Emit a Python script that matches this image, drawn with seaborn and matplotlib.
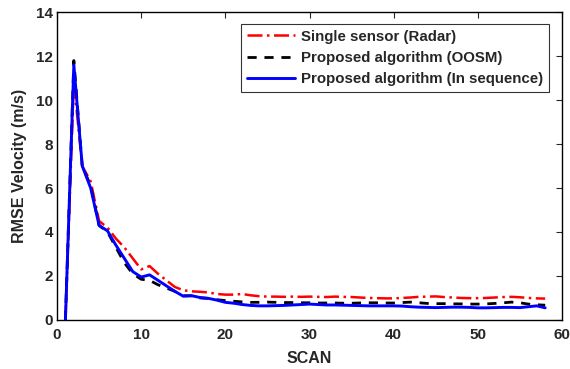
import numpy as np
import pandas as pd
import matplotlib
matplotlib.use("Agg")
import matplotlib.pyplot as plt
import seaborn as sns

scan = list(range(1, 59))
radar = [0, 10.8, 7.0, 6.3, 4.5, 4.2, 3.7, 3.3, 2.8, 2.3,
         2.45, 2.1, 1.8, 1.5, 1.35, 1.3, 1.28, 1.25, 1.18, 1.15,
         1.15, 1.18, 1.12, 1.08, 1.06, 1.06, 1.05, 1.06, 1.05, 1.06,
         1.05, 1.04, 1.06, 1.05, 1.04, 1.02, 1.0, 0.99, 0.98, 0.98,
         1.0, 1.02, 1.05, 1.06, 1.07, 1.04, 1.02, 1.0, 0.99, 0.99,
         1.0, 1.02, 1.04, 1.05, 1.03, 1.0, 0.98, 0.97]
oosm = [0, 11.8, 7.0, 6.1, 4.3, 4.0, 3.3, 2.6, 2.1, 1.85,
        1.8, 1.6, 1.45, 1.3, 1.1, 1.1, 1.0, 0.98, 0.92, 0.88,
        0.85, 0.82, 0.8, 0.8, 0.81, 0.8, 0.79, 0.79, 0.78, 0.78,
        0.77, 0.77, 0.77, 0.76, 0.76, 0.77, 0.78, 0.78, 0.77, 0.77,
        0.79, 0.81, 0.78, 0.75, 0.74, 0.74, 0.73, 0.73, 0.72, 0.72,
        0.73, 0.75, 0.78, 0.81, 0.78, 0.72, 0.69, 0.67]
inseq = [0, 11.6, 7.0, 6.0, 4.3, 4.05, 3.4, 2.8, 2.2, 1.95,
         2.05, 1.8, 1.55, 1.3, 1.08, 1.1, 1.02, 0.98, 0.9, 0.8,
         0.76, 0.7, 0.66, 0.64, 0.64, 0.65, 0.66, 0.68, 0.7, 0.72,
         0.7, 0.68, 0.68, 0.67, 0.66, 0.65, 0.64, 0.64, 0.64, 0.64,
         0.63, 0.6, 0.58, 0.57, 0.56, 0.57, 0.58, 0.58, 0.57, 0.55,
         0.55, 0.56, 0.57, 0.57, 0.56, 0.6, 0.64, 0.55]
labels = ["Single sensor (Radar)", "Proposed algorithm (OOSM)",
          "Proposed algorithm (In sequence)"]
xticks = [0, 10, 20, 30, 40, 50, 60]
yticks = [0, 2, 4, 6, 8, 10, 12, 14]

df = pd.DataFrame({"SCAN": scan * 3,
                   "val": radar + oosm + inseq,
                   "series": [labels[0]] * 58 + [labels[1]] * 58 + [labels[2]] * 58})

sns.set_style("white")
plt.rcParams['font.family'] = ['Liberation Sans', 'DejaVu Sans']
plt.rcParams['font.weight'] = 'bold'

fig = plt.figure(figsize=(5.7, 3.69), dpi=100)
ax = fig.add_axes([0.1, 0.133, 0.886, 0.834])

palette = {labels[0]: "#ff0000", labels[1]: "#000000", labels[2]: "#0000ff"}
styles = [(0, (6, 1.8, 1, 1.8)), (0, (3.3, 2.8)), "-"]
widths = [1.8, 2.0, 2.1]
for lab, ls, lw in zip(labels, styles, widths):
    sub = df[df.series == lab]
    sns.lineplot(data=sub, x="SCAN", y="val", color=palette[lab], ax=ax,
                 linestyle=ls, linewidth=lw, label=lab)

ax.set_xlim(0, 60)
ax.set_ylim(0, 14)
ax.set_xticks(xticks)
ax.set_yticks(yticks)
ax.tick_params(direction="in", length=4, width=0.8, top=True, right=True,
               labelsize=11)
ax.tick_params(axis="x", pad=6)
ax.tick_params(axis="y", pad=3)
for t in ax.get_xticklabels() + ax.get_yticklabels():
    t.set_fontweight("bold")
for s in ax.spines.values():
    s.set_visible(True)
    s.set_color("black")
    s.set_linewidth(1.0)
ax.set_xlabel("SCAN", fontsize=11.5, fontweight="bold", labelpad=6)
ax.set_ylabel("RMSE Velocity (m/s)", fontsize=11.5, fontweight="bold", labelpad=6)

leg = ax.legend(loc="upper right", bbox_to_anchor=(0.974, 0.963),
                frameon=True, fancybox=False, edgecolor="black",
                prop={"size": 10.8, "weight": "bold"}, handlelength=3.2,
                borderpad=0.4, labelspacing=0.48, handletextpad=0.4,
                borderaxespad=0.0)
leg.get_frame().set_linewidth(0.8)

fig.savefig("out.png", dpi=100)
